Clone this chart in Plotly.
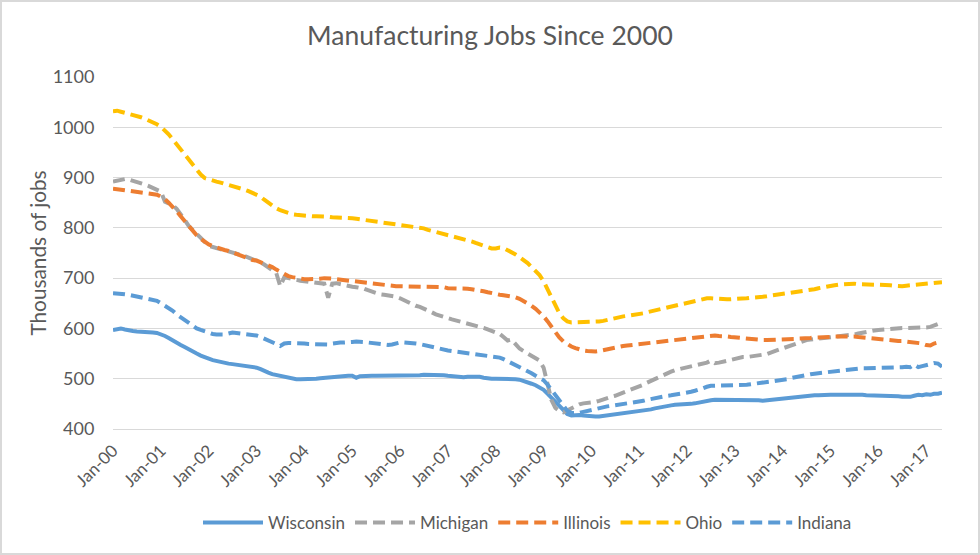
import pandas as pd
import plotly.graph_objects as go

months = pd.date_range("2000-01-01", periods=209, freq="MS")

wisconsin = (
    [597, 599, 600, 598, 596, 595, 594, 594, 593, 593, 592, 591]
    + [589, 585, 581, 577, 572, 567, 563, 558, 554, 550, 546, 542]
    + [540, 537, 535, 533, 532, 530, 529, 528, 527, 526, 525, 524]
    + [522, 519, 515, 512, 509, 507, 505, 503, 501, 500, 499, 499]
    + [499, 499, 499, 500, 501, 502, 503, 503, 504, 505, 506, 506]
    + [506, 502, 505, 506, 506, 506, 506, 506, 506, 506, 506, 506]
    + [506, 507, 507, 507, 507, 507, 508, 508, 508, 508, 507, 507]
    + [506, 505, 504, 503, 503, 504, 504, 505, 504, 502, 500, 500]
    + [500, 500, 499, 499, 499, 499, 498, 496, 493, 490, 487, 483]
    + [478, 470, 462, 454, 445, 437, 430, 427, 428, 428, 427, 426]
    + [426, 425, 425, 426, 428, 429, 430, 431, 432, 432, 433, 434]
    + [435, 436, 437, 439, 441, 443, 445, 446, 447, 448, 448, 449]
    + [449, 450, 451, 453, 455, 456, 457, 458, 458, 458, 458, 458]
    + [458, 458, 458, 458, 458, 458, 457, 456, 457, 458, 459, 460]
    + [461, 462, 463, 463, 464, 465, 466, 466, 467, 467, 468, 468]
    + [468, 468, 468, 468, 469, 469, 468, 468, 468, 467, 467, 466]
    + [466, 466, 466, 466, 465, 465, 464, 464, 464, 466, 468, 467]
    + [469, 468, 470, 470, 472]
)

michigan = (
    [892, 894, 896, 897, 896, 894, 892, 889, 886, 883, 880, 877]
    + [872, 852, 848, 845, 838, 828, 816, 804, 795, 787, 780, 772]
    + [764, 762, 760, 758, 756, 754, 752, 750, 747, 744, 741, 738]
    + [735, 731, 727, 722, 716, 710, 684, 702, 700, 698, 697, 695]
    + [694, 693, 692, 691, 690, 689, 661, 689, 690, 688, 686, 684]
    + [683, 682, 681, 679, 676, 673, 670, 668, 667, 666, 665, 663]
    + [660, 656, 652, 648, 645, 643, 640, 636, 632, 628, 625, 622]
    + [620, 618, 616, 614, 612, 610, 608, 606, 604, 601, 598, 595]
    + [592, 589, 583, 576, 578, 568, 560, 555, 550, 546, 542, 536]
    + [522, 488, 458, 442, 436, 433, 437, 442, 446, 449, 451, 452]
    + [452, 454, 456, 458, 461, 464, 466, 469, 472, 475, 478, 481]
    + [485, 488, 492, 496, 500, 504, 507, 511, 514, 517, 519, 521]
    + [522, 524, 526, 527, 529, 532, 536, 531, 532, 534, 536, 539]
    + [541, 542, 543, 543, 544, 544, 545, 547, 549, 552, 555, 558]
    + [561, 564, 567, 570, 573, 575, 577, 578, 579, 580, 580, 581]
    + [581, 582, 583, 584, 585, 586, 588, 590, 592, 594, 595, 596]
    + [597, 598, 598, 599, 600, 600, 601, 601, 601, 602, 602, 602]
    + [602, 603, 605, 609, 612]
)

illinois = (
    [878, 877, 876, 875, 874, 873, 872, 871, 870, 869, 868, 866]
    + [862, 857, 850, 842, 833, 823, 813, 803, 793, 785, 778, 772]
    + [767, 764, 761, 758, 756, 754, 751, 748, 745, 742, 739, 736]
    + [735, 732, 729, 726, 722, 717, 712, 707, 704, 702, 700, 699]
    + [698, 698, 698, 699, 699, 700, 700, 699, 698, 697, 696, 695]
    + [694, 693, 692, 691, 690, 689, 688, 687, 686, 685, 685, 684]
    + [684, 684, 684, 683, 683, 683, 683, 683, 683, 683, 682, 682]
    + [680, 680, 680, 680, 680, 679, 678, 677, 676, 674, 672, 670]
    + [668, 667, 666, 665, 664, 662, 659, 655, 650, 645, 639, 632]
    + [624, 614, 603, 592, 582, 574, 568, 564, 561, 558, 556, 555]
    + [554, 554, 555, 557, 559, 561, 562, 563, 565, 566, 567, 568]
    + [569, 570, 571, 572, 573, 574, 575, 576, 577, 577, 578, 579]
    + [580, 581, 582, 583, 584, 585, 586, 586, 585, 585, 584, 583]
    + [582, 581, 580, 579, 578, 578, 577, 577, 577, 577, 577, 578]
    + [578, 578, 579, 579, 580, 580, 581, 581, 582, 582, 583, 583]
    + [583, 584, 584, 585, 585, 585, 584, 583, 582, 581, 580, 579]
    + [578, 577, 577, 576, 576, 575, 575, 574, 574, 573, 572, 570]
    + [567, 566, 570, 573, 574]
)

ohio = (
    [1032, 1033, 1031, 1029, 1027, 1024, 1022, 1020, 1017, 1014, 1010, 1006]
    + [1001, 994, 986, 976, 966, 956, 946, 935, 925, 915, 906, 899]
    + [896, 894, 892, 890, 888, 886, 884, 882, 879, 876, 873, 870]
    + [867, 862, 856, 850, 844, 839, 835, 832, 829, 827, 826, 825]
    + [824, 824, 823, 823, 823, 822, 822, 821, 821, 820, 820, 819]
    + [819, 818, 817, 816, 815, 814, 813, 812, 811, 810, 809, 808]
    + [806, 805, 804, 803, 802, 801, 799, 796, 794, 792, 790, 788]
    + [786, 784, 782, 780, 778, 776, 773, 770, 767, 764, 761, 759]
    + [759, 761, 760, 756, 751, 747, 742, 737, 730, 722, 714, 706]
    + [694, 677, 660, 645, 630, 620, 614, 612, 612, 612, 612, 613]
    + [613, 613, 614, 615, 617, 619, 621, 623, 624, 625, 626, 627]
    + [628, 630, 632, 634, 636, 637, 639, 641, 643, 645, 647, 649]
    + [651, 653, 655, 657, 659, 660, 660, 659, 658, 658, 658, 658]
    + [658, 659, 659, 660, 661, 661, 662, 663, 664, 665, 666, 667]
    + [668, 669, 670, 671, 672, 674, 676, 677, 678, 680, 682, 683]
    + [684, 686, 687, 688, 688, 689, 689, 688, 688, 688, 687, 687]
    + [687, 687, 687, 686, 685, 684, 684, 685, 686, 687, 688, 689]
    + [690, 691, 692, 693, 692]
)

indiana = (
    [670, 670, 669, 668, 667, 665, 663, 662, 660, 659, 657, 655]
    + [650, 645, 640, 635, 628, 622, 616, 610, 605, 600, 597, 594]
    + [591, 589, 588, 587, 588, 590, 592, 591, 590, 589, 589, 588]
    + [586, 583, 580, 577, 573, 569, 565, 570, 571, 571, 570, 570]
    + [570, 569, 569, 569, 568, 568, 568, 570, 572, 572, 572, 572]
    + [573, 574, 574, 573, 572, 571, 569, 568, 567, 567, 568, 570]
    + [572, 572, 572, 571, 570, 569, 567, 565, 563, 561, 559, 558]
    + [556, 555, 554, 553, 552, 551, 550, 549, 548, 547, 546, 545]
    + [544, 542, 539, 535, 531, 528, 525, 521, 516, 511, 506, 502]
    + [497, 488, 478, 466, 455, 445, 436, 432, 431, 432, 434, 436]
    + [438, 440, 442, 443, 445, 446, 447, 448, 449, 450, 451, 452]
    + [454, 456, 458, 460, 462, 463, 465, 466, 467, 468, 469, 471]
    + [472, 474, 476, 478, 481, 484, 486, 486, 486, 486, 486, 486]
    + [487, 487, 488, 488, 489, 490, 491, 492, 493, 494, 495, 497]
    + [498, 499, 501, 503, 505, 506, 508, 509, 510, 511, 512, 513]
    + [514, 515, 516, 517, 518, 519, 520, 520, 521, 521, 521, 521]
    + [521, 521, 521, 521, 522, 522, 523, 524, 523, 528, 523, 525]
    + [527, 529, 531, 530, 524]
)

series_names = ["Wisconsin", "Michigan", "Illinois", "Ohio", "Indiana"]
series_values = [wisconsin, michigan, illinois, ohio, indiana]
series_colors = ["#5B9BD5", "#A5A5A5", "#ED7D31", "#FFC000", "#5B9BD5"]
series_dash = ["solid", "12px,6px", "12px,6px", "12px,6px", "12px,6px"]

FONT = "Lato, 'Open Sans', sans-serif"
GREY = "#595959"

fig = go.Figure()
for name, vals, col, dash in zip(series_names, series_values, series_colors, series_dash):
    fig.add_trace(go.Scatter(
        x=months, y=vals, name=name, mode="lines",
        line=dict(color=col, width=4, dash=dash),
    ))

W, H = 980, 555
L, R, T, B = 113, 38, 77, 126

fig.update_layout(
    width=W, height=H,
    margin=dict(l=L, r=R, t=T, b=B),
    paper_bgcolor="white", plot_bgcolor="white",
    font=dict(family=FONT, color=GREY),
    title=dict(text="Manufacturing Jobs Since 2000", x=0.5, xanchor="center",
               y=1 - 36 / H, yanchor="middle",
               font=dict(size=26.5, color=GREY, family=FONT)),
    legend=dict(orientation="h", x=0.5, xanchor="center",
                yref="container", y=1 - 523 / H, yanchor="middle",
                font=dict(size=17, color=GREY), traceorder="normal",
                itemwidth=60),
    showlegend=True,
)

fig.update_xaxes(
    type="date", range=["2000-01-01", "2017-05-01"],
    tick0="2000-01-01", dtick="M12", tickformat="%b-%y",
    tickangle=-45, tickfont=dict(size=17, color=GREY),
    showgrid=False, showline=True, linecolor="#D9D9D9", linewidth=1,
    zeroline=False, ticks="outside", ticklen=4, tickcolor="white",
)
fig.update_yaxes(
    range=[400, 1100], dtick=100, tick0=400,
    tickfont=dict(size=18, color=GREY),
    showgrid=True, gridcolor="#D9D9D9", gridwidth=1,
    zeroline=False, showline=False,
    ticks="outside", ticklen=14, tickcolor="white",
    title=dict(text="Thousands of jobs", font=dict(size=20.8, color=GREY), standoff=0),
)

# chart-area border
pw, ph = W - L - R, H - T - B
fig.add_shape(type="rect", xref="paper", yref="paper",
              x0=-(L - 1) / pw, x1=1 + (R - 1) / pw,
              y0=-(B - 1) / ph, y1=1 + (T - 1) / ph,
              line=dict(color="#D9D9D9", width=2), layer="below")

fig.write_html("out.html", config={"displayModeBar": False},
               post_script="document.body.style.margin='0px';")
